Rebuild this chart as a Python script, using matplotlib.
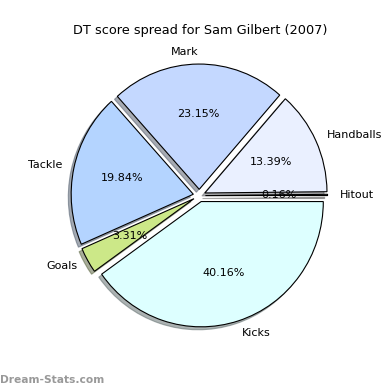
import matplotlib
matplotlib.use('Agg')
import matplotlib.pyplot as plt

player = "Sam Gilbert"
season = 2007

labels = ['Hitout', 'Handballs', 'Mark', 'Tackle', 'Goals', 'Kicks']
shares = [0.16, 13.39, 23.15, 19.84, 3.31, 40.16]
colours = ['#d8d8d8', '#eaf0ff', '#c4d8ff', '#b4d4ff', '#cce888', '#ddffff']
explode = [0.05, 0.05, 0.05, 0.05, 0.05, 0.05]

fig = plt.figure(figsize=(3.9, 3.9), dpi=100)
ax = fig.add_axes([0.1195, 0.097, 0.783, 0.803])

wedges, texts, autotexts = ax.pie(shares, labels=labels, colors=colours, explode=explode,
                                  autopct='%1.2f%%', startangle=0,
                                  shadow={'ox': -0.017, 'oy': -0.017, 'shade': 0.6},
                                  wedgeprops={'linewidth': 0.8, 'edgecolor': 'black'},
                                  textprops={'fontsize': 8})
# the original is drawn the old way: pie stretched slightly to fill its axes
ax.set_aspect('auto')
ax.set_xlim(-1.25, 1.25)
ax.set_ylim(-1.25, 1.25)

# title and watermark sit on the figure, not the axes
fig.text(0.513, 0.921, 'DT score spread for {} ({})'.format(player, season),
         fontsize=9.3, ha='center', va='center')
fig.text(0.0, 0.018, 'Dream-Stats.com', color='#999999', fontsize=7.7, fontweight='bold')

fig.savefig('out.png', dpi=100)
